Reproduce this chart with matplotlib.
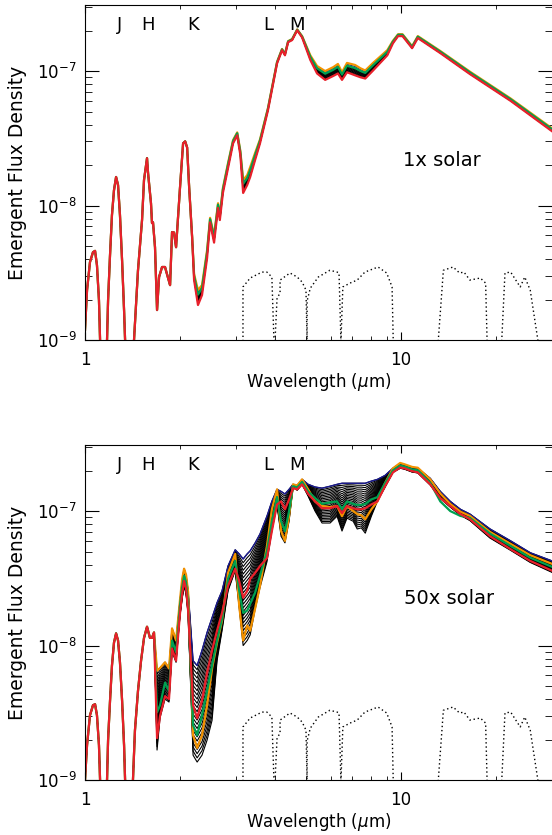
import numpy as np
import matplotlib.pyplot as plt
from matplotlib.ticker import FixedLocator, NullFormatter

# ---- top panel (1x solar), flux in units of 1e-9 ----
wl1 = [1.000, 1.015, 1.037, 1.060, 1.076, 1.091, 1.107, 1.116, 1.124, 1.165,
       1.174, 1.183, 1.200, 1.217, 1.235, 1.254, 1.272, 1.290, 1.310, 1.329,
       1.339, 1.349, 1.409, 1.429, 1.471, 1.515, 1.537, 1.571, 1.583, 1.617,
       1.629, 1.641, 1.665, 1.690, 1.715, 1.753, 1.791, 1.858, 1.885, 1.912,
       1.941, 1.998, 2.043, 2.074, 2.104, 2.135, 2.182, 2.213, 2.277, 2.345,
       2.433, 2.487, 2.560, 2.635, 2.670, 2.730, 2.834, 2.940, 3.030, 3.100,
       3.164, 3.258, 3.330, 3.451, 3.577, 3.790, 4.050, 4.200, 4.290, 4.390,
       4.520, 4.690, 4.860, 5.160, 5.420, 5.750, 6.100, 6.310, 6.500, 6.740,
       7.150, 7.430, 7.700, 8.150, 9.040, 9.420, 9.780, 10.10, 10.83, 11.29,
       13.30, 16.50, 22.20, 30.00]
solar1_lo = [1.19, 2.35, 3.8, 4.5, 4.6, 3.6, 1.98, 1.0, 0.3, 0.3,
             1.0, 1.98, 4.3, 8.5, 13.0, 16.3, 14.2, 8.5, 3.9, 1.67,
             1.0, 0.3, 0.3, 1.0, 3.3, 7.8, 15.5, 22.5, 17.4, 10.4,
             7.4, 7.5, 4.9, 1.67, 2.94, 3.49, 3.49, 2.56, 6.35, 6.3,
             4.9, 13.7, 29.0, 30.0, 27.0, 13.7, 5.8, 2.8, 1.82, 2.16,
             4.07, 7.5, 5.3, 9.6, 7.8, 12.4, 19.0, 29.0, 33.3, 23.7,
             12.4, 14.2, 16.3, 21.8, 29.0, 51.0, 114, 143, 131, 164,
             170, 201, 178, 121, 96, 86, 92, 96, 86, 98,
             93, 90, 88, 101, 131, 161, 182, 182, 148, 176,
             136, 95, 60, 35.7]
solar1_hi = [1.19, 2.35, 3.8, 4.5, 4.6, 3.6, 1.98, 1.0, 0.3, 0.3,
             1.0, 1.98, 4.3, 8.5, 13.0, 16.3, 14.2, 8.5, 3.9, 1.67,
             1.0, 0.3, 0.3, 1.0, 3.3, 7.8, 15.5, 22.5, 17.4, 10.4,
             7.4, 7.5, 4.9, 1.67, 2.94, 3.49, 3.49, 2.56, 6.35, 6.3,
             4.9, 13.7, 29.0, 30.0, 27.0, 13.7, 5.8, 3.1, 2.35, 2.56,
             4.66, 8.1, 6.0, 10.4, 8.5, 13.5, 20.7, 30.7, 35.0, 25.5,
             15.5, 16.8, 19.3, 24.6, 31.0, 53.0, 117, 146, 134, 167,
             173, 204, 182, 131, 109, 100, 107, 113, 98, 115,
             111, 105, 101, 115, 143, 168, 188, 188, 153, 182,
             141, 99, 62.5, 37.5]

# ---- bottom panel (50x solar) ----
wl2_shared = [1.000, 1.015, 1.037, 1.060, 1.076, 1.091, 1.107, 1.116, 1.124, 1.165,
              1.174, 1.183, 1.200, 1.217, 1.235, 1.254, 1.272, 1.290, 1.310, 1.329,
              1.339, 1.349, 1.409, 1.418, 1.439, 1.471, 1.504, 1.537, 1.571, 1.605,
              1.629, 1.653]
f2_shared = [1.0, 1.82, 3.03, 3.6, 3.66, 3.03, 1.82, 1.0, 0.3, 0.3,
             1.0, 1.98, 3.9, 7.1, 10.5, 12.3, 10.9, 7.5, 3.9, 1.82,
             1.0, 0.3, 0.3, 1.0, 2.35, 4.6, 7.7, 11.4, 13.8, 11.4,
             11.4, 12.5]
wl2 = [1.690, 1.727, 1.791, 1.844, 1.885, 1.941, 1.998, 2.028, 2.058, 2.088,
       2.119, 2.197, 2.263, 2.345, 2.433, 2.523, 2.616, 2.713, 2.834, 2.986,
       3.074, 3.164, 3.258, 3.330, 3.451, 3.577, 3.763, 3.900, 4.050, 4.170,
       4.290, 4.420, 4.550, 4.690, 4.860, 5.080, 5.340, 5.620, 5.960, 6.270,
       6.500, 6.740, 7.050, 7.260, 7.480, 7.700, 8.050, 8.410, 8.890, 9.420,
       9.930, 10.24, 10.83, 11.29, 12.36, 13.30, 14.30, 15.40, 16.50, 19.10,
       22.20, 25.60, 30.00]
solar50_top = [6.5, 6.8, 7.5, 6.75, 13.4, 10.9, 21.5, 30.0, 37.3, 33.0,
               25.5, 7.7, 7.1, 9.2, 12.5, 16.1, 20.8, 25.5, 39.0, 51.5,
               48.0, 44.0, 48.0, 50.6, 57.8, 67.5, 91.6, 118, 145, 140,
               134, 145, 158, 155, 172, 158, 151, 148, 153, 158,
               161, 161, 161, 161, 161, 161, 167, 172, 184, 208,
               226, 221, 211, 208, 175, 140, 118, 103, 95, 73.6,
               60, 49, 42.6]
solar50_bot = [1.67, 2.9, 4.0, 3.8, 9.0, 7.5, 16.7, 22.0, 27.8, 24.0,
               17.0, 1.53, 1.36, 1.53, 1.98, 2.78, 7.7, 12.9, 25.5, 36.0,
               19.0, 10.0, 10.9, 12.0, 18.5, 27.0, 42.0, 71.0, 112, 65,
               58, 84, 150, 143, 158, 129, 100, 81.5, 81.5, 91.6,
               71.0, 88.6, 84.0, 73.6, 75.0, 68.5, 91.6, 118, 150, 194,
               208, 205, 195, 192, 156, 124, 107, 93, 85, 63,
               51, 41.5, 35.0]
solar50_red = [2.05, 3.0, 4.2, 4.0, 9.5, 7.7, 17.5, 24.0, 30.2, 26.5,
               18.2, 3.6, 2.88, 3.9, 6.3, 9.2, 12.9, 17.5, 27.8, 37.3,
               30.2, 22.7, 25.5, 31.3, 34.7, 39.0, 44.7, 71.0, 112, 118,
               103, 122, 148, 145, 158, 134, 118, 105, 105, 109,
               96.5, 109, 105, 103, 103, 105, 112, 118, 153, 194,
               211, 208, 198, 194, 158, 125, 109, 95, 87, 65,
               52, 42.6, 36.0]
solar50_green = [3.19, 3.6, 5.3, 4.6, 10.9, 8.9, 19.8, 27.0, 33.0, 29.5,
                 20.0, 2.55, 2.15, 3.03, 4.6, 7.1, 10.9, 15.8, 31.3, 42.6,
                 25.5, 17.5, 18.2, 20.4, 24.7, 33.0, 50.6, 84.0, 127, 84,
                 71, 100, 153, 150, 165, 140, 125, 113, 116, 118,
                 103, 118, 113, 111, 111, 113, 122, 127, 161, 201,
                 218, 214, 204, 201, 162, 118, 100, 92, 89, 68,
                 55, 45, 38.5]
solar50_orange = [6.5, 6.8, 7.5, 6.75, 13.4, 10.9, 22.0, 31.0, 37.3, 33.5,
                  25.0, 2.15, 1.73, 2.15, 3.6, 6.75, 10.5, 15.3, 34.7, 48.0,
                  19.8, 10.9, 14.1, 12.9, 18.8, 27.8, 55.0, 103, 145, 71,
                  60, 91.6, 158, 155, 172, 145, 118, 109, 107, 109,
                  91.6, 109, 100, 95, 93, 87, 103, 118, 161, 208,
                  228, 223, 213, 210, 172, 135, 113, 99, 92, 70,
                  57, 47, 40.5]

# ---- filter curves (dotted), same in both panels ----
filters = [
    ([3.16, 3.16, 3.33, 3.63, 3.76, 3.90, 3.96], [0.98, 2.48, 2.89, 3.2, 3.2, 2.94, 0.98]),
    ([3.99, 4.05, 4.14, 4.14, 4.45, 4.69, 4.86, 5.00, 5.04], [0.98, 2.05, 2.23, 2.79, 3.15, 2.94, 2.7, 2.35, 0.98]),
    ([5.04, 5.04, 5.16, 5.47, 5.95, 6.27, 6.36, 6.45], [0.98, 1.95, 2.43, 2.94, 3.3, 3.2, 3.15, 0.98]),
    ([6.45, 6.54, 6.89, 7.26, 7.68, 8.45, 9.00, 9.36, 9.44], [0.98, 2.48, 2.65, 2.79, 3.2, 3.49, 3.15, 2.48, 0.98]),
    ([13.1, 13.6, 14.6, 15.3, 15.8, 16.5, 17.8, 18.5, 18.7], [0.98, 3.3, 3.49, 3.15, 3.2, 2.79, 2.89, 2.65, 0.98]),
    ([20.8, 21.3, 22.2, 23.8, 24.6, 25.6, 27.1], [0.98, 3.15, 3.2, 2.48, 2.94, 2.35, 0.98]),
]

bands = ['J', 'H', 'K', 'L', 'M']
band_wl = [1.29, 1.58, 2.2, 3.8, 4.7]

ORANGE = '#f39200'
GREEN = '#00a050'
RED = '#e8202a'
BLUE = '#1a1a90'


def mix(lo, hi, w):
    lo = np.log(np.asarray(lo))
    hi = np.log(np.asarray(hi))
    return np.exp((1 - w) * lo + w * hi)


def style(ax, label, label_xy):
    ax.set_xscale('log')
    ax.set_yscale('log')
    ax.set_xlim(1, 30)
    ax.set_ylim(1e-9, 3.1e-7)
    ax.xaxis.set_major_locator(FixedLocator([1, 10]))
    ax.xaxis.set_minor_locator(FixedLocator([2, 3, 4, 5, 6, 7, 8, 9, 20, 30]))
    ax.set_xticklabels(['1', '10'])
    ax.xaxis.set_minor_formatter(NullFormatter())
    ax.yaxis.set_major_locator(FixedLocator([1e-9, 1e-8, 1e-7]))
    ax.yaxis.set_minor_locator(FixedLocator([k * 10.0**e for e in (-9, -8, -7) for k in range(2, 10)]))
    ax.set_yticklabels([r'$10^{-9}$', r'$10^{-8}$', r'$10^{-7}$'])
    ax.yaxis.set_minor_formatter(NullFormatter())
    ax.tick_params(axis='x', which='major', direction='in', length=6, top=True, labelsize=12, pad=8)
    ax.tick_params(axis='x', which='minor', direction='in', length=3, top=True)
    ax.tick_params(axis='y', which='major', direction='in', length=10, right=True, labelsize=12, pad=6)
    ax.tick_params(axis='y', which='minor', direction='in', length=5, right=True)
    ax.spines['right'].set_visible(False)
    ax.set_xlabel(r'Wavelength ($\mu$m)', fontsize=12, va='center')
    ax.xaxis.set_label_coords(0.5, -42 / 335)
    ax.set_ylabel('Emergent Flux Density', fontsize=13.5, va='center')
    ax.yaxis.set_label_coords(-67 / 467, 0.5)
    for b, w in zip(bands, band_wl):
        ax.text(w, 0.94, b, transform=ax.get_xaxis_transform(), ha='center', va='center', fontsize=13)
    ax.text(label_xy[0], label_xy[1], label, transform=ax.transAxes, ha='center', va='center', fontsize=14)
    for fw, ff in filters:
        ax.plot(fw, np.array(ff) * 1e-9, color='black', lw=1, ls=(0, (1, 2)))


fig = plt.figure(figsize=(5.52, 8.35), dpi=100)
ax1 = fig.add_axes([85 / 552, 1 - 340 / 835, 467 / 552, 335 / 835])
ax2 = fig.add_axes([85 / 552, 1 - 780 / 835, 467 / 552, 335 / 835])

# top: nearly coincident family
lo1 = np.array(solar1_lo) * 1e-9
hi1 = np.array(solar1_hi) * 1e-9
for w in np.linspace(0.05, 0.6, 8):
    ax1.plot(wl1, mix(lo1, hi1, w), color='black', lw=0.8)
ax1.plot(wl1, mix(lo1, hi1, 0.85), color=BLUE, lw=0.8)
ax1.plot(wl1, hi1, color=ORANGE, lw=1.6)
ax1.plot(wl1, mix(lo1, hi1, 0.7), color=GREEN, lw=1.6)
ax1.plot(wl1, lo1, color=RED, lw=1.6)
style(ax1, '1x solar', (0.765, 0.537))

# bottom: wide family
wl2_all = wl2_shared + wl2
top2 = np.array(f2_shared + solar50_top) * 1e-9
bot2 = np.array(f2_shared + solar50_bot) * 1e-9
for w in np.linspace(0, 1, 24):
    ax2.plot(wl2_all, mix(bot2, top2, w), color='black', lw=0.8)
ax2.plot(wl2_all, top2, color=BLUE, lw=1.0)
ax2.plot(wl2_all, np.array(f2_shared + solar50_orange) * 1e-9, color=ORANGE, lw=1.6)
ax2.plot(wl2_all, np.array(f2_shared + solar50_green) * 1e-9, color=GREEN, lw=1.6)
ax2.plot(wl2_all, np.array(f2_shared + solar50_red) * 1e-9, color=RED, lw=1.6)
style(ax2, '50x solar', (0.78, 0.543))

fig.savefig('out.png', dpi=100)
